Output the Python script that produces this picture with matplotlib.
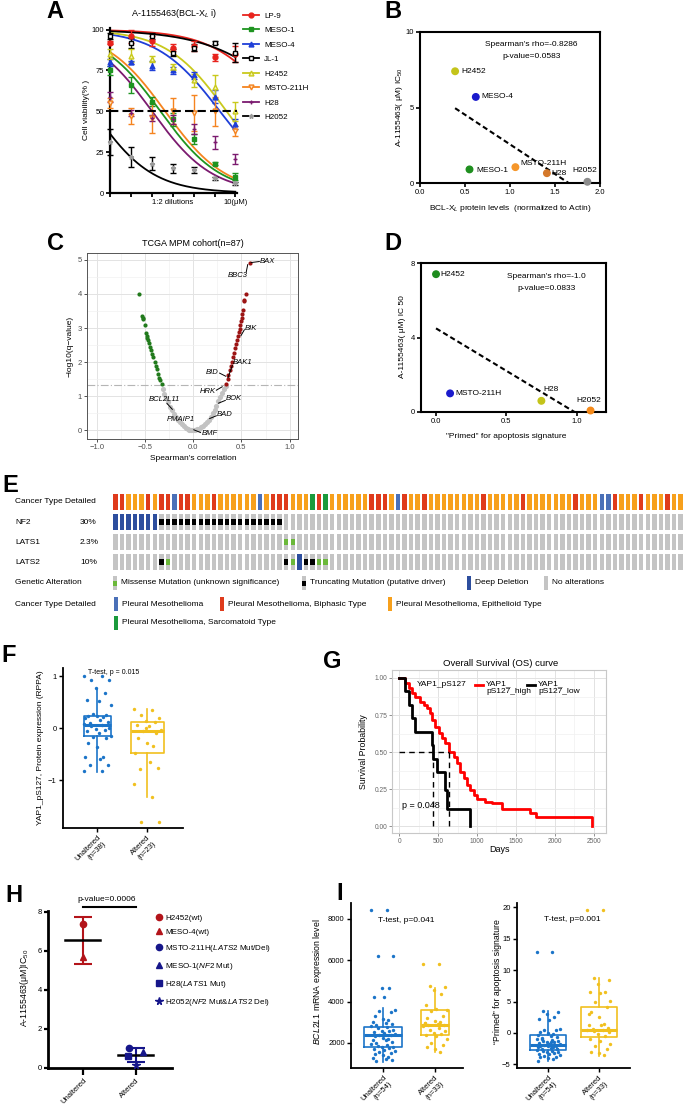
import numpy as np
import matplotlib.pyplot as plt
from matplotlib.lines import Line2D
from matplotlib.patches import Rectangle
from matplotlib.ticker import NullLocator, MultipleLocator

plt.rcParams['font.family'] = ['Liberation Sans', 'DejaVu Sans']
plt.rcParams['mathtext.fontset'] = 'custom'
plt.rcParams['mathtext.rm'] = 'Liberation Sans'
plt.rcParams['mathtext.it'] = 'Liberation Sans:italic'

# ---------------- data ----------------
# A: cell viability (%) along 1:2 dilutions up to 10 uM
conc = [0.15625, 0.3125, 0.625, 1.25, 2.5, 5, 10]
cell_lines = ['LP-9', 'MESO-1', 'MESO-4', 'JL-1', 'H2452', 'MSTO-211H', 'H28', 'H2052']
lp9 = [92, 96, 93, 89, 90, 83, 85]
meso1 = [75, 66, 56, 45, 33, 18, 10]
meso4 = [80, 80, 78, 75, 72, 59, 42]
jl1 = [96, 92, 96, 86, 89, 92, 86]
h2452 = [85, 84, 82, 77, 69, 65, 50]
msto = [55, 47, 46, 50, 49, 50, 38]
h28 = [59, 49, 46, 45, 39, 31, 21]
h2052 = [31, 22, 18, 15, 14, 9, 6]
lp9_sd = [1, 4, 3, 2, 3, 2, 5]
meso1_sd = [3, 5, 3, 4, 3, 1, 2]
meso4_sd = [2, 1, 3, 2, 2, 4, 3]
jl1_sd = [2, 3, 2, 2, 2, 1, 6]
h2452_sd = [3, 4, 2, 2, 4, 7, 6]
msto_sd = [3, 5, 9, 8, 11, 9, 3]
h28_sd = [3, 2, 2, 3, 3, 4, 3]
h2052_sd = [8, 6, 4, 3, 2, 1, 1]
# fitted dose-response parameters (IC50 in uM, Hill slope)
fit_ic50 = [45.9, 0.825, 5.99, 91.9, 7.47, 0.968, 0.625, 0.0888]
fit_hill = [0.93, 1.0, 0.95, 0.72, 1.0, 1.0, 1.0, 1.02]

# B: BCL-XL protein vs IC50
b_lines = ['H2452', 'MESO-4', 'MESO-1', 'MSTO-211H', 'H28', 'H2052']
b_protein = [0.39, 0.62, 0.55, 1.06, 1.41, 1.86]
b_ic50 = [7.4, 5.7, 0.9, 1.05, 0.65, 0.08]

# C: TCGA correlation vs -log10(q)
c_neg_r = [-0.564, -0.53, -0.525, -0.52, -0.505, -0.49, -0.485, -0.48, -0.47, -0.46, -0.45,
           -0.436, -0.425, -0.415, -0.40, -0.39, -0.38, -0.367, -0.355, -0.345, -0.33]
c_neg_q = [3.99, 3.34, 3.3, 3.27, 3.08, 2.85, 2.78, 2.72, 2.64, 2.55, 2.45,
           2.35, 2.25, 2.15, 2.0, 1.9, 1.8, 1.66, 1.55, 1.47, 1.37]
c_ns_r = [-0.32, -0.30, -0.28, -0.26, -0.24, -0.22, -0.20, -0.18, -0.16, -0.14, -0.12, -0.10,
          -0.08, -0.06, -0.04, -0.02, 0.0, 0.02, 0.04, 0.06, 0.08, 0.10, 0.12, 0.14, 0.16,
          0.18, 0.20, 0.22, 0.24, 0.26, 0.28, 0.30, 0.32, 0.335]
c_ns_q = [1.22, 1.08, 0.95, 0.82, 0.70, 0.59, 0.49, 0.40, 0.32, 0.25, 0.18, 0.13,
          0.08, 0.05, 0.02, 0.01, 0.0, 0.01, 0.03, 0.05, 0.09, 0.13, 0.18, 0.24, 0.31,
          0.40, 0.50, 0.60, 0.72, 0.85, 0.98, 1.10, 1.22, 1.31]
c_pos_r = [0.343, 0.355, 0.365, 0.377, 0.39, 0.40, 0.41, 0.42, 0.435, 0.446, 0.455, 0.465,
           0.474, 0.482, 0.488, 0.495, 0.505, 0.51, 0.515, 0.525, 0.529, 0.543, 0.585]
c_pos_q = [1.37, 1.5, 1.62, 1.76, 1.9, 2.02, 2.15, 2.28, 2.42, 2.54, 2.65, 2.77,
           2.88, 2.98, 3.08, 3.2, 3.3, 3.42, 3.52, 3.8, 3.83, 3.99, 4.91]
q_cut = 1.32

# D: primed signature vs IC50
d_lines = ['H2452', 'MSTO-211H', 'H28', 'H2052']
d_primed = [0.0, 0.1, 0.75, 1.1]
d_ic50 = [7.4, 1.0, 0.6, 0.08]

# E: oncoprint (87 samples). R biphasic, O epithelioid, B NOS, G sarcomatoid
cancer_type = ("RROOORORRB" "RROOOROOOO" "OOBORRROOO" "GRGOOOOOOR" "RROBROOROO"
               "OOOOOOROOO" "OOROOOOOOO" "ROOOBBROOO" "ROOOROO")
genes = ['NF2', 'LATS1', 'LATS2']
gene_pct = ['30%', '2.3%', '10%']
nf2_deep = [0, 1, 2, 3, 4, 5, 6]
nf2_trunc = [7, 8, 9, 10, 11, 12, 13, 14, 15, 16, 17, 18, 19, 20, 21, 22, 23, 24, 25]
nf2_miss = []
lats1_deep = []
lats1_trunc = []
lats1_miss = [26, 27]
lats2_deep = [28]
lats2_trunc = [7, 26, 29, 30]
lats2_miss = [8, 27, 31, 32]

# F: YAP1 pS127 RPPA
f_unalt = [1.0, 1.0, 0.92, 0.92, 0.76, 0.67, 0.53, 0.51, 0.44, 0.27, 0.25, 0.23, 0.23, 0.22,
           0.2, 0.15, 0.12, 0.09, 0.07, 0.05, 0.03, 0.0, -0.02, -0.04, -0.06, -0.1, -0.15,
           -0.17, -0.2, -0.29, -0.36, -0.55, -0.55, -0.6, -0.71, -0.71, -0.83, -0.83]
f_alt = [0.37, 0.35, 0.25, 0.19, 0.14, 0.12, 0.05, 0.03, -0.04, -0.06, -0.1, -0.19, -0.28,
         -0.34, -0.49, -0.66, -0.76, -0.78, -1.08, -1.32, -1.8, -1.8, 0.0]
f_box_unalt = dict(med=0.065, q1=-0.15, q3=0.24, whislo=-0.84, whishi=0.75)
f_box_alt = dict(med=-0.05, q1=-0.49, q3=0.11, whislo=-1.32, whishi=0.36)

# G: Kaplan-Meier
red_t = [0, 77, 120, 163, 206, 271, 313, 357, 400, 421, 464, 507, 550, 593, 636, 700, 743,
         786, 829, 872, 915, 958, 1001, 1100, 1194, 1323, 1688, 1753, 2480]
red_s = [1.0, 0.964, 0.93, 0.896, 0.869, 0.84, 0.818, 0.795, 0.761, 0.716, 0.671, 0.626,
         0.592, 0.559, 0.497, 0.468, 0.424, 0.367, 0.322, 0.277, 0.243, 0.209, 0.18, 0.165,
         0.155, 0.115, 0.088, 0.061, 0.0]
black_t = [0, 69, 120, 163, 206, 415, 431, 485, 585, 614, 915]
black_s = [1.0, 0.909, 0.818, 0.727, 0.636, 0.545, 0.455, 0.364, 0.245, 0.115, 0.0]

# H: IC50 by Hippo status
h_unalt_lines = ['H2452(wt)', 'MESO-4(wt)']
h_unalt_ic50 = [7.4, 5.7]
h_alt_lines = ['MSTO-211H($\\it{LATS2}$ Mut/Del)', 'MESO-1($\\it{NF2}$ Mut)',
               'H28($\\it{LATS1}$ Mut)', 'H2052($\\it{NF2}$ Mut&$\\it{LATS2}$ Del)']
h_alt_ic50 = [1.03, 0.82, 0.6, 0.17]

# I: BCL2L1 mRNA and primed signature
i1_unalt = [8430, 8430, 6200, 6200, 4650, 4650, 4230, 4230, 3600, 3560, 3480, 3310, 3180,
            3120, 3020, 2960, 2900, 2880, 2820, 2760, 2720, 2650, 2600, 2560, 2520, 2470,
            2430, 2400, 2380, 2330, 2260, 2210, 2150, 2120, 2060, 2000, 1950, 1900, 1870,
            1820, 1790, 1740, 1700, 1640, 1600, 1560, 1510, 1460, 1400, 1340, 1290, 1230,
            1180, 1130]
i1_alt = [5800, 5800, 4750, 4700, 4550, 4350, 3850, 3650, 3600, 3550, 3300, 3200, 3050,
          3000, 2950, 2900, 2870, 2850, 2800, 2700, 2650, 2600, 2500, 2450, 2400, 2350,
          2200, 2000, 1900, 1800, 1700, 1550, 2950]
i1_box_unalt = dict(med=2385, q1=1790, q3=2760, whislo=1100, whishi=3680)
i1_box_alt = dict(med=2870, q1=2385, q3=3600, whislo=1550, whishi=4650)
i2_unalt = [12.9, 12.9, 3.5, 3.4, 3.1, 2.6, 2.3, 2.0, 0.7, 0.5, 0.4, 0.2, 0.0, -0.2, -0.4,
            -0.5, -0.7, -0.8, -1.0, -1.1, -1.2, -1.3, -1.4, -1.5, -1.6, -1.7, -1.8, -1.9,
            -2.0, -2.0, -2.1, -2.2, -2.3, -2.4, -2.5, -2.6, -2.7, -2.8, -2.9, -3.0, -3.1,
            -3.2, -3.3, -3.4, -3.5, -3.6, -3.8, -3.9, -4.0, -4.2, -4.5, -1.5, -2.5, -1.0]
i2_alt = [19.6, 19.6, 8.8, 8.5, 7.8, 6.6, 6.5, 6.4, 5.1, 4.9, 4.1, 3.3, 2.5, 1.4, 1.3, 1.2,
          0.8, 0.7, 0.5, 0.5, 0.3, 0.2, -0.1, -0.5, -0.9, -1.3, -1.7, -2.1, -2.5, -3.0,
          -3.2, -3.5, 3.0]
i2_box_unalt = dict(med=-1.88, q1=-2.69, q3=-0.38, whislo=-4.5, whishi=3.5)
i2_box_alt = dict(med=0.54, q1=-0.65, q3=4.09, whislo=-3.6, whishi=8.76)

# ---------------- layout helpers ----------------
W, H = 685, 1115
fig = plt.figure(figsize=(W / 100, H / 100), dpi=100)


def add_ax(l, t, r, b):
    return fig.add_axes([l / W, 1 - b / H, (r - l) / W, (b - t) / H])


def ftext(x, y, s, **kw):
    kw.setdefault('ha', 'center')
    kw.setdefault('va', 'center')
    return fig.text(x / W, 1 - y / H, s, **kw)


def jitter(n, width):
    pattern = np.array([-0.9, 0.3, -0.4, 0.8, -0.1, 0.5, -0.7, 0.1, 0.9, -0.3, 0.6, -0.6,
                        0.0, 0.4, -0.8, 0.2, 0.7, -0.5])
    return np.resize(pattern, n) * width


def prism_axes(ax, lw=1.5):
    for s in ['top', 'right']:
        ax.spines[s].set_visible(False)
    for s in ['left', 'bottom']:
        ax.spines[s].set_linewidth(lw)
    ax.tick_params(labelsize=5.5, width=lw * 0.8, length=3, pad=1.5)


BLUE = '#1b74c8'
GOLD = '#f1c01f'

# ---------------- A ----------------
ax = add_ax(110, 28, 237, 193)
a_vals = [lp9, meso1, meso4, jl1, h2452, msto, h28, h2052]
a_sd = [lp9_sd, meso1_sd, meso4_sd, jl1_sd, h2452_sd, msto_sd, h28_sd, h2052_sd]
a_col = ['#e8231d', '#1e9420', '#1f3fd8', '#000000', '#c9c91c', '#f5841f', '#7b1a6f', '#000000']
a_mk = ['o', 's', '^', 's', '^', 'v', '+', '*']
a_mfc = ['#e8231d', '#1e9420', '#1f3fd8', 'white', '#f4f4b0', '#ffe3c4', '#7b1a6f', '#9a9a9a']
a_mec = ['#e8231d', '#1e9420', '#1f3fd8', '#000000', '#c9c91c', '#f5841f', '#7b1a6f', '#9a9a9a']
c_fine = np.geomspace(conc[0], conc[-1], 200)
handles = []
for i in range(len(cell_lines)):
    fit = 100 / (1 + (c_fine / fit_ic50[i]) ** fit_hill[i])
    ax.plot(c_fine, fit, color=a_col[i], lw=1.3, zorder=2)
    ax.errorbar(conc, a_vals[i], yerr=a_sd[i], fmt=a_mk[i], color=a_col[i], mfc=a_mfc[i],
                mec=a_mec[i], ms=3.5, mew=1.0, capsize=2, elinewidth=1.0, capthick=1.0,
                zorder=3, clip_on=False)
    handles.append(Line2D([0], [0], color=a_col[i], marker=a_mk[i], mfc=a_mfc[i],
                          mec=a_mec[i], ms=3.5, lw=1.3))
ax.axhline(50, color='black', lw=1.5, ls=(0, (4, 2)), zorder=4)
ax.set_xscale('log', base=2)
ax.set_xlim(conc[0] / 2 ** 0.02, conc[-1] * 2 ** 0.08)
ax.set_xticks(conc)
ax.set_xticklabels(['', '', '', '1:2 dilutions', '', '', '10(μM)'])
ax.xaxis.set_minor_locator(NullLocator())
ax.set_ylim(0, 101)
ax.set_yticks([0, 25, 50, 75, 100])
prism_axes(ax, 1.6)
ftext(86, 110, 'Cell viability(% )', fontsize=6, rotation=90)
ftext(174, 13, 'A-1155463(BCL-X$_L$ i)', fontsize=6.5)
fig.legend(handles, cell_lines, loc='upper left', bbox_to_anchor=(243 / W, 1 - 12 / H),
           frameon=False, fontsize=5.8, handlelength=2.0, labelspacing=0.85,
           borderpad=0, borderaxespad=0, handletextpad=0.6)
ftext(55, 11, 'A', fontsize=17, fontweight='bold')

# ---------------- B ----------------
ax = add_ax(420, 32, 600, 183)
b_col = ['#c4c41a', '#1a1acc', '#1f8f1f', '#f5962a', '#d4782a', '#8c8c8c']
ax.scatter(b_protein, b_ic50, c=b_col, s=22, zorder=3, clip_on=False)
slope, icpt = np.polyfit(b_protein, b_ic50, 1)
xl = np.array([min(b_protein), -icpt / slope])
ax.plot(xl, slope * xl + icpt, color='black', lw=1.5, ls=(0, (2.5, 1.5)))
b_off = [(0.07, 0), (0.065, 0), (0.08, -0.05), (0.06, 0.22), (0.05, -0.05), (-0.17, 0.72)]
for name, x, y, (dx, dy) in zip(b_lines, b_protein, b_ic50, b_off):
    ax.text(x + dx, y + dy, name, fontsize=6, va='center', ha='left')
ax.text(1.24, 9.2, "Spearman's rho=-0.8286", fontsize=6, ha='center', va='center')
ax.text(1.24, 8.4, 'p-value=0.0583', fontsize=6, ha='center', va='center')
ax.set_xlim(0, 2)
ax.set_ylim(0, 10)
ax.set_xticks([0, 0.5, 1.0, 1.5, 2.0])
ax.set_yticks([0, 5, 10])
for s in ax.spines.values():
    s.set_linewidth(1.5)
ax.tick_params(labelsize=5.5, width=1.2, length=3, pad=1.5)
ftext(400, 107, 'A-1155463( μM) IC$_{50}$', fontsize=6, rotation=90)
ftext(510, 208, 'BCL-X$_L$ protein levels  (normalized to Actin)', fontsize=6)
ftext(393, 11, 'B', fontsize=17, fontweight='bold')

# ---------------- C ----------------
ax = add_ax(87, 253, 298, 439)
ax.set_xlim(-1.104, 1.087)
ax.set_ylim(-0.25, 5.2)
ax.set_xticks([-1.0, -0.5, 0.0, 0.5, 1.0])
ax.set_xticklabels(['\u22121.0', '\u22120.5', '0.0', '0.5', '1.0'])
ax.set_yticks([0, 1, 2, 3, 4, 5])
ax.xaxis.set_minor_locator(MultipleLocator(0.25))
ax.yaxis.set_minor_locator(MultipleLocator(0.5))
ax.grid(which='major', color='#e3e3e3', lw=0.7)
ax.grid(which='minor', color='#f1f1f1', lw=0.5)
ax.tick_params(which='minor', length=0)
ax.tick_params(which='major', labelsize=5.5, colors='#333333', labelcolor='#4d4d4d',
               width=0.6, length=2, pad=1.5)
ax.set_axisbelow(True)
for s in ax.spines.values():
    s.set_color('#555555')
    s.set_linewidth(0.7)
ax.axhline(q_cut, color='#b5b5b5', lw=0.8, ls=(0, (7, 2, 1, 2)), zorder=1)
ax.scatter(c_ns_r, c_ns_q, s=14, color='#c2c2c2', lw=0, zorder=2)
ax.scatter(c_neg_r, c_neg_q, s=9, color='#217a1c', lw=0, zorder=3)
ax.scatter(c_pos_r, c_pos_q, s=9, color='#9c1414', lw=0, zorder=3)
# gene labels: (name, text x, text y, leader start, leader end, ha)
c_labels = [('BAX', 0.69, 4.95, (0.6, 4.92), (0.685, 4.95), 'left'),
            ('BBC3', 0.46, 4.54, (0.55, 4.65), (0.565, 4.86), 'center'),
            ('BIK', 0.535, 2.98, (0.495, 2.78), (0.53, 2.95), 'left'),
            ('BAK1', 0.41, 1.98, (0.36, 1.55), (0.405, 1.9), 'left'),
            ('BID', 0.2, 1.7, (0.273, 1.68), (0.336, 1.59), 'center'),
            ('HRK', 0.15, 1.15, (0.239, 1.18), (0.3, 1.28), 'center'),
            ('BOK', 0.425, 0.93, (0.332, 0.88), (0.262, 0.8), 'center'),
            ('BAD', 0.325, 0.46, (0.239, 0.43), (0.17, 0.35), 'center'),
            ('BCL2L11', -0.3, 0.9, (-0.273, 0.79), (-0.218, 0.62), 'center'),
            ('PMAIP1', -0.125, 0.32, None, None, 'center'),
            ('BMF', 0.085, -0.08, (0.005, 0.02), (0.075, -0.06), 'left')]
for name, tx, ty, p0, p1, ha in c_labels:
    ax.text(tx, ty, name, fontsize=5.5, style='italic', ha=ha, va='center', zorder=5)
    if p0 is not None:
        ax.plot([p0[0], p1[0]], [p0[1], p1[1]], color='black', lw=0.7, zorder=4)
ftext(193, 243, 'TCGA MPM cohort(n=87)', fontsize=6.5)
ftext(70, 346, '\u2212log10(q\u2212value)', fontsize=6, rotation=90)
ftext(193, 458, "Spearman's correlation", fontsize=6)
ftext(55, 243, 'C', fontsize=17, fontweight='bold')

# ---------------- D ----------------
ax = add_ax(421, 263, 606, 412)
d_col = ['#1e8c1e', '#1a1acc', '#c4c41a', '#f58a1a']
ax.scatter(d_primed, d_ic50, c=d_col, s=22, zorder=3, clip_on=False)
slope, icpt = np.polyfit(d_primed, d_ic50, 1)
xl = np.array([min(d_primed), -icpt / slope])
ax.plot(xl, slope * xl + icpt, color='black', lw=1.5, ls=(0, (2.5, 1.5)))
d_off = [(0.03, 0, 'left'), (0.038, -0.02, 'left'), (0.067, 0.6, 'center'),
         (-0.01, 0.55, 'center')]
for name, x, y, (dx, dy, ha) in zip(d_lines, d_primed, d_ic50, d_off):
    ax.text(x + dx, y + dy, name, fontsize=6, va='center', ha=ha)
ax.text(0.786, 7.3, "Spearman's rho=-1.0", fontsize=6, ha='center', va='center')
ax.text(0.786, 6.64, 'p-value=0.0833', fontsize=6, ha='center', va='center')
ax.set_xlim(-0.107, 1.21)
ax.set_ylim(0, 8)
ax.set_xticks([0.0, 0.5, 1.0])
ax.set_yticks([0, 4, 8])
for s in ax.spines.values():
    s.set_linewidth(1.5)
ax.tick_params(labelsize=5.5, width=1.2, length=3, pad=1.5)
ftext(403, 337, 'A-1155463( μM) IC 50', fontsize=6, rotation=90)
ftext(506, 437, '"Primed" for apoptosis signature', fontsize=6)
ftext(393, 243, 'D', fontsize=17, fontweight='bold')

# ---------------- E ----------------
type_col = {'R': '#df3b1c', 'O': '#f7a01c', 'B': '#4a70b8', 'G': '#1a9a3c'}
GRAY = '#c4c4c4'
DEEP = '#2d4e9e'
MISS = '#6bb83a'
ax = add_ax(112, 492, 684, 572)
ax.set_xlim(-0.5, len(cancer_type) - 0.5)
ax.set_ylim(3.5, -0.5)
ax.axis('off')
cols = np.arange(len(cancer_type))
ax.bar(cols, 0.8, bottom=-0.4, width=0.68, lw=0, color=[type_col[c] for c in cancer_type])
gene_rows = [(nf2_deep, nf2_trunc, nf2_miss), (lats1_deep, lats1_trunc, lats1_miss),
             (lats2_deep, lats2_trunc, lats2_miss)]
for r, (deep, trunc, miss) in enumerate(gene_rows, start=1):
    base = [DEEP if i in deep else GRAY for i in cols]
    ax.bar(cols, 0.8, bottom=r - 0.4, width=0.68, lw=0, color=base)
    if trunc:
        ax.bar(trunc, 0.3, bottom=r - 0.15, width=0.68, lw=0, color='black')
    if miss:
        ax.bar(miss, 0.3, bottom=r - 0.15, width=0.68, lw=0, color=MISS)
ftext(15, 502, 'Cancer Type Detailed', fontsize=6, ha='left')
for k, (g, p) in enumerate(zip(genes, gene_pct)):
    ftext(15, 522 + 20 * k, g, fontsize=6, ha='left')
    ftext(80, 522 + 20 * k, p, fontsize=6, ha='left')
ftext(10, 486, 'E', fontsize=17, fontweight='bold')

# legend of the oncoprint
lg = add_ax(0, 572, 685, 635)
lg.set_xlim(0, 685)
lg.set_ylim(635, 572)
lg.axis('off')
ftext(15, 583, 'Genetic Alteration', fontsize=6, ha='left')
alt_items = [(113, MISS, 'Missense Mutation (unknown significance)'),
             (302, 'black', 'Truncating Mutation (putative driver)'),
             (467, DEEP, 'Deep Deletion'),
             (544, GRAY, 'No alterations')]
for x, c, lab in alt_items:
    full = c if c in (DEEP, GRAY) else GRAY
    lg.add_patch(Rectangle((x, 576), 4.5, 14, color=full, lw=0))
    if full != c:
        lg.add_patch(Rectangle((x, 581), 4.5, 5, color=c, lw=0))
    lg.text(x + 8, 583, lab, fontsize=6, va='center', ha='left')
ftext(15, 604, 'Cancer Type Detailed', fontsize=6, ha='left')
type_items = [(116, 604, 'B', 'Pleural Mesothelioma'),
              (222, 604, 'R', 'Pleural Mesothelioma, Biphasic Type'),
              (390, 604, 'O', 'Pleural Mesothelioma, Epithelioid Type'),
              (116, 623, 'G', 'Pleural Mesothelioma, Sarcomatoid Type')]
for x, y, code, lab in type_items:
    lg.add_patch(Rectangle((x - 2, y - 7), 4.5, 14, color=type_col[code], lw=0))
    lg.text(x + 6, y, lab, fontsize=6, va='center', ha='left')


# ---------------- box + jitter helper ----------------
def box_jitter(ax, groups, stats, colors, widths, jw):
    res = ax.bxp(stats, positions=[0, 1], widths=widths, showfliers=False, showcaps=False,
                 boxprops=dict(lw=1.2), whiskerprops=dict(lw=1.2), medianprops=dict(lw=2.2))
    for i, c in enumerate(colors):
        res['boxes'][i].set_color(c)
        res['medians'][i].set_color(c)
        res['whiskers'][2 * i].set_color(c)
        res['whiskers'][2 * i + 1].set_color(c)
    for i, (vals, c) in enumerate(zip(groups, colors)):
        ax.scatter(i + jitter(len(vals), jw), vals, s=6, color=c, lw=0, zorder=3)


# ---------------- F ----------------
ax = add_ax(63, 668, 183, 828)
st = [dict(f_box_unalt, fliers=[]), dict(f_box_alt, fliers=[])]
box_jitter(ax, [f_unalt, f_alt], st, [BLUE, GOLD], [0.54, 0.66], 0.3)
ax.set_xlim(-0.68, 1.72)
ax.set_ylim(-1.923, 1.154)
ax.set_yticks([-1, 0, 1])
ax.set_yticklabels(['\u22121', '0', '1'])
ax.set_xticks([0, 1])
ax.set_xticklabels(['Unaltered\n(n=38)', 'Altered\n(n=23)'], rotation=45, ha='right',
                   rotation_mode='anchor', fontsize=6)
prism_axes(ax, 1.3)
ax.text(0.34, 1.06, 'T-test, p = 0.015', fontsize=5, ha='center', va='center')
ftext(41, 748, 'YAP1_pS127, Protein expression (RPPA)', fontsize=6, rotation=90)
ftext(9, 656, 'F', fontsize=17, fontweight='bold')

# ---------------- G ----------------
ax = add_ax(392, 670, 606, 833)
ax.set_xlim(-94, 2660)
ax.set_ylim(-0.047, 1.054)
ax.set_xticks([0, 500, 1000, 1500, 2000, 2500])
ax.set_yticks([0, 0.25, 0.5, 0.75, 1.0])
ax.set_yticklabels(['0.00', '0.25', '0.50', '0.75', '1.00'])
ax.xaxis.set_minor_locator(MultipleLocator(250))
ax.yaxis.set_minor_locator(MultipleLocator(0.125))
ax.grid(which='major', color='#e2e2e2', lw=0.7)
ax.grid(which='minor', color='#f0f0f0', lw=0.5)
ax.set_axisbelow(True)
ax.tick_params(which='minor', length=0)
ax.tick_params(which='major', labelsize=4.8, labelcolor='#666666', color='#666666',
               width=0.5, length=2, pad=1.5)
for s in ax.spines.values():
    s.set_color('#c8c8c8')
    s.set_linewidth(0.8)
ax.step(red_t, red_s, where='post', color='#ff0000', lw=2, zorder=3)
ax.step(black_t, black_s, where='post', color='black', lw=2, zorder=3)
med_red = red_t[next(i for i, s in enumerate(red_s) if s <= 0.5)]
med_black = black_t[next(i for i, s in enumerate(black_s) if s <= 0.5)]
ax.plot([0, max(med_red, med_black)], [0.5, 0.5], color='black', lw=1, ls=(0, (4, 3)), zorder=4)
for m in (med_black, med_red):
    ax.plot([m, m], [0, 0.5], color='black', lw=1, ls=(0, (4, 3)), zorder=4)
ax.text(30, 0.14, 'p = 0.048', fontsize=6.5, ha='left', va='center')
ax.text(0.117, 0.908, 'YAP1_pS127', fontsize=6, transform=ax.transAxes, va='center')
ax.plot([0.39, 0.426], [0.908, 0.908], color='#ff0000', lw=2, transform=ax.transAxes)
ax.text(0.439, 0.935, 'YAP1_\npS127_high', fontsize=6, transform=ax.transAxes, va='top',
        linespacing=1.05)
ax.plot([0.631, 0.67], [0.908, 0.908], color='black', lw=2, transform=ax.transAxes)
ax.text(0.683, 0.935, 'YAP1_\npS127_low', fontsize=6, transform=ax.transAxes, va='top',
        linespacing=1.05)
ftext(501, 663, 'Overall Survival (OS) curve', fontsize=6.8)
ftext(363, 752, 'Survival Probability', fontsize=6.3, rotation=90)
ftext(500, 850, 'Days', fontsize=6.5)
ftext(332, 661, 'G', fontsize=17, fontweight='bold')

# ---------------- H ----------------
ax = add_ax(48, 911, 172, 1068)
ax.set_xlim(-0.66, 1.68)
ax.set_ylim(0, 8.05)
RED_H = '#b3141a'
NAVY = '#16168a'
h_unalt_mk = ['o', '^']
h_alt_mk = ['o', '^', 's', '*']
h_unalt_dx = [0, 0]
h_alt_dx = [-0.14, 0.13, -0.15, 0.0]
for pos, vals, col, mks, dxs in [(0, h_unalt_ic50, RED_H, h_unalt_mk, h_unalt_dx),
                                 (1, h_alt_ic50, NAVY, h_alt_mk, h_alt_dx)]:
    m = np.mean(vals)
    sd = np.std(vals, ddof=1)
    ax.errorbar(pos, m, yerr=sd, color=col, capsize=6.5, capthick=1.5, elinewidth=1.5,
                zorder=2)
    ax.plot([pos - 0.33, pos + 0.33], [m, m], color='black', lw=1.8, zorder=3)
    for v, mk, dx in zip(vals, mks, dxs):
        ax.plot(pos + dx, v, marker=mk, color=col, ms=4.5 if mk != '*' else 5.5, zorder=4,
                clip_on=False)
ax.plot([0, 1], [8.25, 8.25], color='black', lw=1.5, clip_on=False)
ax.text(0.45, 8.62, 'p-value=0.0006', fontsize=6, ha='center', va='center')
ax.set_yticks([0, 2, 4, 6, 8])
ax.set_xticks([0, 1])
ax.set_xticklabels(['Unaltered', 'Altered'], rotation=45, ha='right', rotation_mode='anchor',
                   fontsize=6.5)
prism_axes(ax, 2.0)
ax.tick_params(axis='x', length=5)
h_handles = [Line2D([0], [0], ls='none', marker=mk, color=RED_H, ms=4.5) for mk in h_unalt_mk]
h_handles += [Line2D([0], [0], ls='none', marker=mk, color=NAVY, ms=4.5 if mk != '*' else 5.5)
              for mk in h_alt_mk]
fig.legend(h_handles, h_unalt_lines + h_alt_lines, loc='upper left',
           bbox_to_anchor=(155 / W, 1 - 914 / H), frameon=False, fontsize=5.8,
           handlelength=1.0, handletextpad=0.3, labelspacing=0.85, borderpad=0,
           borderaxespad=0)
ftext(25, 988, 'A-1155463(μM)IC$_{50}$', fontsize=6.3, rotation=90)
ftext(14, 895, 'H', fontsize=17, fontweight='bold')

# ---------------- I ----------------
ax = add_ax(351, 903, 463, 1068)
st = [dict(i1_box_unalt, fliers=[]), dict(i1_box_alt, fliers=[])]
box_jitter(ax, [i1_unalt, i1_alt], st, [BLUE, GOLD], [0.72, 0.54], 0.25)
ax.set_xlim(-0.615, 1.54)
ax.set_ylim(788, 8774)
ax.set_yticks([2000, 4000, 6000, 8000])
ax.set_xticks([0, 1])
ax.set_xticklabels(['Unaltered\n(n=54)', 'Altered\n(n=33)'], rotation=45, ha='right',
                   rotation_mode='anchor', fontsize=6.5)
prism_axes(ax, 1.3)
ax.text(0.44, 7950, 'T-test, p=0.041', fontsize=6, ha='center', va='center')
ftext(318, 982, '$\\it{BCL2L1}$ mRNA expression level', fontsize=6.3, rotation=90)
ftext(340, 893, 'I', fontsize=17, fontweight='bold')

ax = add_ax(517, 903, 630, 1068)
st = [dict(i2_box_unalt, fliers=[]), dict(i2_box_alt, fliers=[])]
box_jitter(ax, [i2_unalt, i2_alt], st, [BLUE, GOLD], [0.72, 0.72], 0.25)
ax.set_xlim(-0.61, 1.61)
ax.set_ylim(-5.58, 20.7)
ax.set_yticks([-5, 0, 5, 10, 15, 20])
ax.set_yticklabels(['\u22125', '0', '5', '10', '15', '20'])
ax.set_xticks([0, 1])
ax.set_xticklabels(['Unaltered\n(n=54)', 'Altered\n(n=33)'], rotation=45, ha='right',
                   rotation_mode='anchor', fontsize=6.5)
prism_axes(ax, 1.3)
ax.text(0.48, 18.0, 'T-test, p=0.001', fontsize=6, ha='center', va='center')
ftext(497, 982, '\u201cPrimed\u201d for apoptosis signature', fontsize=6.3, rotation=90)

fig.savefig('out.png', dpi=100)
